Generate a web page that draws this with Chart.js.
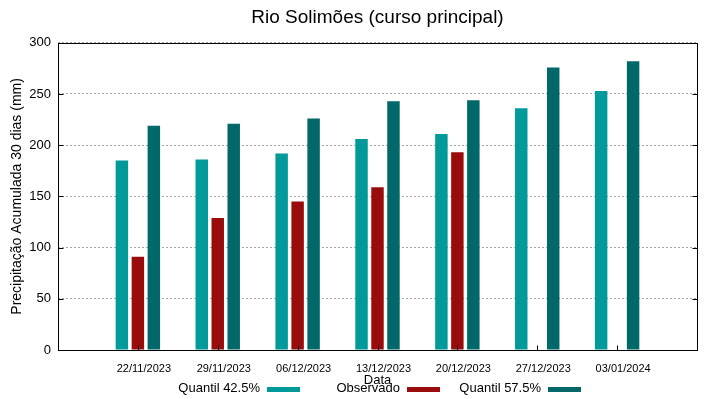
<!DOCTYPE html>
<html>
<head>
<meta charset="utf-8">
<script src="https://cdn.jsdelivr.net/npm/chart.js@4"></script>
<style>
  html, body { margin: 0; padding: 0; background: #fff; }
  #wrap { width: 719px; height: 399px; }
</style>
</head>
<body>
<div id="wrap"><canvas id="rioChart" width="719" height="399"></canvas></div>
<script>
// empty slots at both ends so the groups sit one step in from the frame
var dates = ['', '22/11/2023', '29/11/2023', '06/12/2023', '13/12/2023', '20/12/2023', '27/12/2023', '03/01/2024', ''];
var quantil425 = [null, 185, 186, 192, 206, 211, 236, 253, null];
var observado = [null, 91, 129, 145, 159, 193, null, null, null];
var quantil575 = [null, 219, 221, 226, 243, 244, 276, 282, null];
var yTicks = [0, 50, 100, 150, 200, 250, 300];

var fontName = '"Liberation Sans", Arial, sans-serif';

// frame around the plot, inward tick marks, gnuplot style legend (text then sample)
var framePlugin = {
    id: 'frame',
    afterDatasetsDraw: function(chart) {
        var ctx = chart.ctx;
        var a = chart.chartArea;
        var l = Math.round(a.left) + 0.5, r = Math.round(a.right) + 0.5;
        var t = Math.round(a.top) + 0.5, b = Math.round(a.bottom) + 0.5;
        ctx.save();
        ctx.strokeStyle = '#000';
        ctx.lineWidth = 1;
        ctx.beginPath();
        chart.scales.y.ticks.forEach(function(tk) {
            var y = Math.round(chart.scales.y.getPixelForValue(tk.value)) + 0.5;
            ctx.moveTo(l, y); ctx.lineTo(l + 5, y);
            ctx.moveTo(r, y); ctx.lineTo(r - 5, y);
        });
        chart.scales.x.ticks.forEach(function(tk, i) {
            if (!dates[i]) return;
            var x = Math.round(chart.scales.x.getPixelForTick(i)) + 0.5;
            ctx.moveTo(x, b); ctx.lineTo(x, b - 5);
        });
        ctx.stroke();
        ctx.strokeRect(l, t, r - l, b - t);

        ctx.font = '13px ' + fontName;
        ctx.textAlign = 'right';
        ctx.textBaseline = 'middle';
        var textRight = [260, 400, 541];
        chart.data.datasets.forEach(function(ds, i) {
            var x = textRight[i];
            ctx.fillStyle = '#000';
            ctx.fillText(ds.label, x, 388);
            ctx.fillStyle = ds.backgroundColor;
            ctx.fillRect(x + 7, 387, 33, 5);
        });
        ctx.restore();
    }
};

var ctx = document.getElementById('rioChart').getContext('2d');
var rioChart = new Chart(ctx, {
    type: 'bar',
    data: {
        labels: dates,
        datasets: [{
            label: 'Quantil 42.5%',
            data: quantil425,
            backgroundColor: '#009a9a'
        }, {
            label: 'Observado',
            data: observado,
            backgroundColor: '#9a0c0c'
        }, {
            label: 'Quantil 57.5%',
            data: quantil575,
            backgroundColor: '#006868'
        }]
    },
    options: {
        responsive: false,
        animation: false,
        categoryPercentage: 0.6,
        barPercentage: 0.78,
        layout: { padding: { left: 0, right: 22, top: 0, bottom: 0 } },
        plugins: {
            legend: { display: false },
            tooltip: { enabled: false },
            title: {
                display: true,
                fullSize: false,
                text: 'Rio Solimões (curso principal)',
                color: '#000',
                font: { family: fontName, size: 19, weight: 'normal' },
                padding: { top: 6, bottom: 14 }
            }
        },
        scales: {
            x: {
                offset: false,
                grid: { display: false },
                border: { display: false },
                ticks: {
                    color: '#000',
                    font: { family: fontName, size: 11 },
                    maxRotation: 0,
                    autoSkip: false,
                    labelOffset: 6,
                    padding: 4
                },
                title: {
                    display: true,
                    text: 'Data',
                    color: '#000',
                    font: { family: fontName, size: 13 },
                    padding: { top: 0, bottom: 11 }
                },
                afterFit: function(scale) { scale.height = 49; }
            },
            y: {
                min: 0,
                max: 300,
                afterBuildTicks: function(scale) {
                    scale.ticks = yTicks.map(function(v) { return { value: v }; });
                },
                grid: {
                    color: '#a8a8a8',
                    drawTicks: false
                },
                border: { display: false, dash: [2, 2] },
                ticks: {
                    color: '#000',
                    font: { family: fontName, size: 13 },
                    padding: 7
                },
                title: {
                    display: true,
                    text: 'Precipitação Acumulada 30 dias (mm)',
                    color: '#000',
                    font: { family: fontName, size: 14 },
                    padding: { top: 9, left: 9, bottom: 0, right: 0 }
                },
                afterFit: function(scale) { scale.width = 58; }
            }
        }
    },
    plugins: [framePlugin]
});
</script>
</body>
</html>
